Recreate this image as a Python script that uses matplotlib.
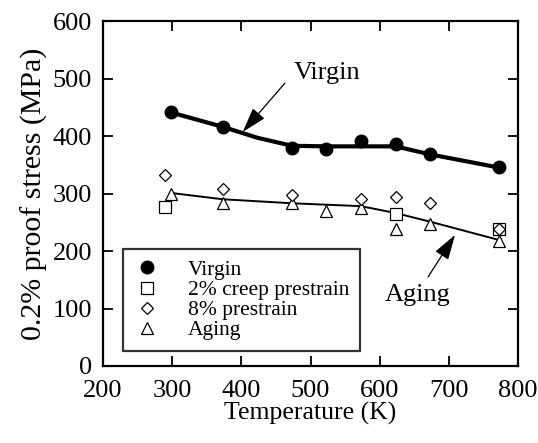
import matplotlib
matplotlib.use("Agg")
import matplotlib.pyplot as plt

# ---- data ----
temp_virgin = [298, 373, 473, 523, 573, 623, 673, 773]
virgin = [441, 416, 380, 377, 392, 386, 368, 346]

temp_virgin_fit = [298, 373, 423, 473, 523, 573, 623, 673, 773]
virgin_fit = [441, 416, 397, 383, 382, 382, 382, 368, 345]

temp_creep = [290, 623, 773]
creep2 = [277, 264, 238]

temp_pre8 = [290, 373, 473, 573, 623, 673, 773]
pre8 = [332, 307, 297, 290, 294, 283, 238]

temp_aging = [298, 373, 473, 523, 573, 623, 673, 773]
aging = [300, 284, 283, 270, 274, 238, 247, 217]

temp_aging_fit = [298, 373, 473, 573, 623, 673, 773]
aging_fit = [301, 290, 283, 278, 266, 251, 219]

labels = ["Virgin", "2% creep prestrain", "8% prestrain", "Aging"]
xticks = [200, 300, 400, 500, 600, 700, 800]
yticks = [0, 100, 200, 300, 400, 500, 600]

plt.rcParams['font.family'] = ['Liberation Serif', 'DejaVu Serif']

fig = plt.figure(figsize=(5.38, 4.43), dpi=100)
ax = fig.add_axes([103/538, 1-366/443, 415/538, 345/443])

ax.plot(temp_virgin_fit, virgin_fit, color='black', lw=3.0, zorder=2)
ax.plot(temp_aging_fit, aging_fit, color='black', lw=1.4, zorder=2)

ms = 8.5
h1, = ax.plot(temp_virgin, virgin, 'o', color='black', ms=ms + 0.5, zorder=3, label=labels[0])
h2, = ax.plot(temp_creep, creep2, 's', mfc='white', mec='black', mew=0.9, ms=ms, zorder=3, label=labels[1])
h3, = ax.plot(temp_pre8, pre8, 'D', mfc='white', mec='black', mew=0.9, ms=ms - 2, zorder=4, label=labels[2])
h4, = ax.plot(temp_aging, aging, '^', mfc='white', mec='black', mew=0.9, ms=ms + 0.5, zorder=3, label=labels[3])

ax.set_xlim(200, 800)
ax.set_ylim(0, 600)
ax.set_xticks(xticks)
ax.set_yticks(yticks)
ax.tick_params(direction='in', length=7, width=1.3, labelsize=19, pad=8,
               top=True, right=True)
ax.tick_params(axis='x', pad=10)
for s in ax.spines.values():
    s.set_linewidth(1.6)

ax.set_xlabel("Temperature (K)", fontsize=18.5, labelpad=0)
ax.set_ylabel("0.2% proof stress (MPa)", fontsize=21.5, labelpad=3)

arrow = dict(arrowstyle='-|>,head_length=0.65,head_width=0.2', color='black',
             lw=0.9, mutation_scale=24, shrinkA=0, shrinkB=0)
ax.text(524, 510, "Virgin", fontsize=19, ha='center', va='center')
ax.annotate("", xy=(402, 407), xytext=(463, 492), arrowprops=arrow)
ax.text(655, 124, "Aging", fontsize=19, ha='center', va='center')
ax.annotate("", xy=(709, 228), xytext=(670, 155), arrowprops=arrow)

leg = ax.legend(handles=[h1, h2, h3, h4], loc='lower left',
                bbox_to_anchor=(0.048, 0.0435), borderaxespad=0,
                fontsize=15.5, frameon=True, fancybox=False, edgecolor='black',
                labelspacing=0.0, handletextpad=1.3, handlelength=1.2,
                borderpad=0.5)
leg.get_frame().set_linewidth(1.6)

fig.savefig("out.png", dpi=100)
